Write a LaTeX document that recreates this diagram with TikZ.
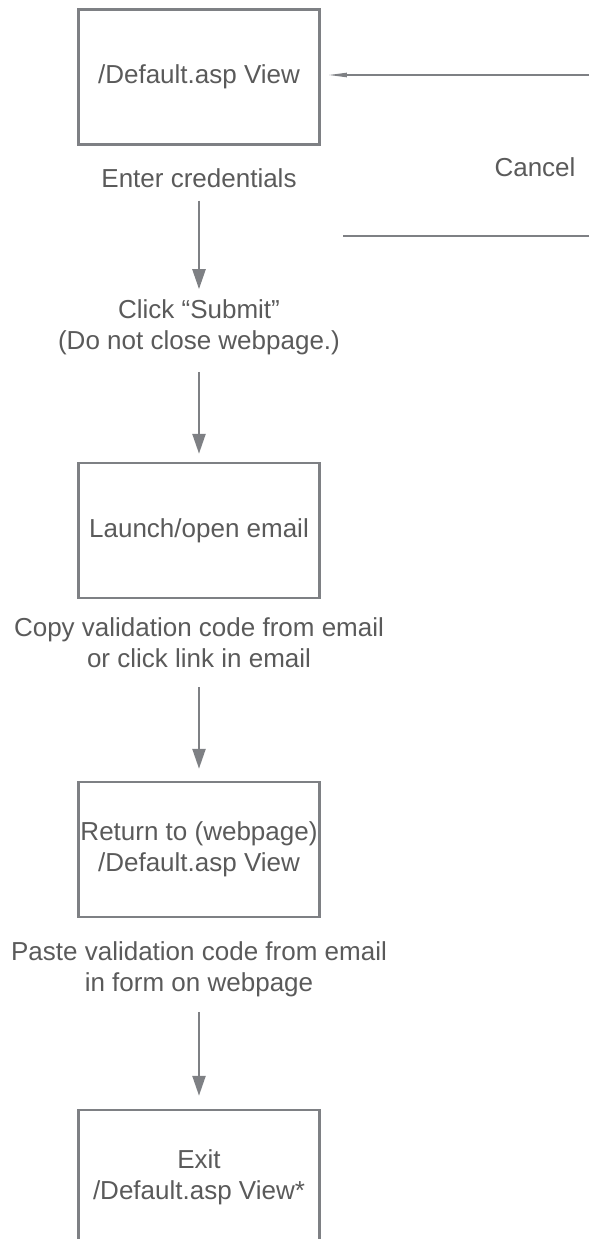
\documentclass[tikz,border=0pt]{standalone}
\usepackage{fontspec}
\setmainfont{Liberation Sans}
\usetikzlibrary{positioning}
\usetikzlibrary{arrows.meta}
\definecolor{linegray}{HTML}{7E8084}
\definecolor{textgray}{HTML}{5A5A5A}

\begin{document}
\begin{tikzpicture}[x=1pt, y=-1pt,
    every node/.style = {font=\fontsize{26}{31}\selectfont, text=textgray},
    stepbox/.style = {draw=linegray, line width=2.5pt, minimum width=241pt, minimum height=135pt, align=center, inner sep=0pt},
    note/.style = {align=center, inner sep=0pt},
    flow/.style = {draw=linegray, line width=2.5pt, -{Triangle[length=20pt,width=13pt]}}]
    \clip (0,0) rectangle (589,1239);
    \node[stepbox] (view) at (199,77) {/Default.asp View};
    \node[note] (enter) at (199,178) {Enter credentials};
    \node[note] (submit) at (199,327) {Click “Submit”\\(Do not close webpage.)};
    \node[stepbox] (email) at (199,530.5) {Launch/open email};
    \node[note] (copy) at (199,643) {Copy validation code from email\\or click link in email};
    \node[stepbox] (back) at (199,849.5) {Return to (webpage)\\/Default.asp View};
    \node[note] (paste) at (199,969) {Paste validation code from email\\in form on webpage};
    \node[stepbox] (exit) at (199,1177.5) {Exit\\/Default.asp View*};
    \node[note] (cancel) at (535,167) {Cancel};
    \coordinate (cancelin) at (589,75);
    \coordinate (cancelout) at (589,236);
    \coordinate (cancelend) at (343,236);
    \draw[flow, shorten <=13pt, shorten >=10pt] (enter) -- (submit);
    \draw[flow, shorten <=17pt, shorten >=8pt] (submit) -- (email);
    \draw[flow, shorten <=19pt, shorten >=12pt] (copy) -- (back);
    \draw[flow, shorten <=15pt, shorten >=13pt] (paste) -- (exit);
    \draw[draw=linegray, line width=2pt, -{Triangle[length=20pt,width=4pt]}, shorten >=6pt] (cancelin) -- (cancelin -| view.east);
    \draw[draw=linegray, line width=2.5pt] (cancelout) -- (cancelend);
\end{tikzpicture}
\end{document}
